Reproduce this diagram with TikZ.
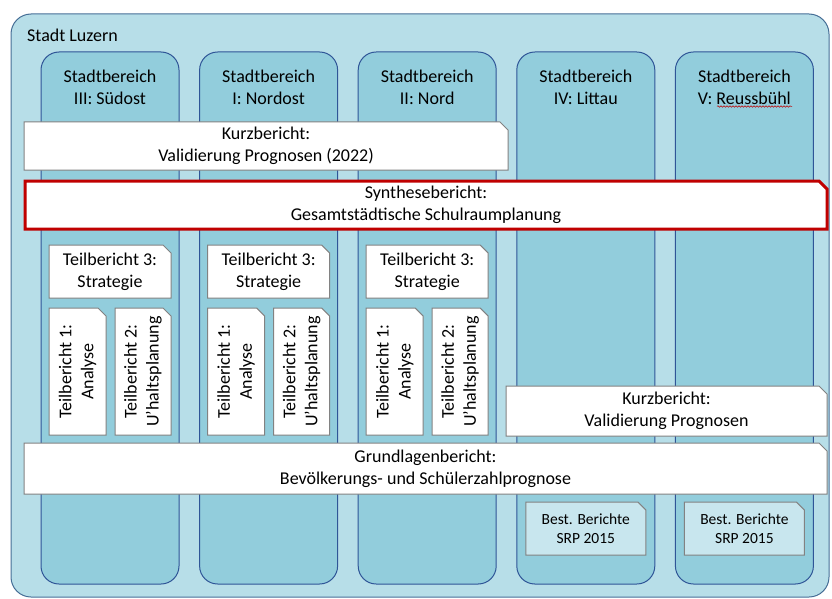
\documentclass[tikz,border=0pt]{standalone}
\usepackage{fontspec}
\setmainfont{Carlito}
\usetikzlibrary{shapes.misc,decorations.pathmorphing}

\definecolor{stadtbg}{RGB}{183,222,232}
\definecolor{stadtline}{RGB}{70,110,150}
\definecolor{bereichbg}{RGB}{146,205,220}
\definecolor{bereichline}{RGB}{47,85,151}
\definecolor{berichtline}{RGB}{130,130,130}
\definecolor{synthline}{RGB}{192,0,0}
\definecolor{bestbg}{RGB}{200,230,238}

\tikzset{
  bereich/.style={draw=bereichline, fill=bereichbg, rounded corners=18pt, line width=1pt,
    minimum width=138pt, minimum height=532pt, inner sep=0pt},
  bericht/.style={chamfered rectangle, chamfered rectangle corners=north east,
    chamfered rectangle sep=4pt, draw=berichtline, fill=white, line width=1pt,
    inner sep=0pt, align=center, font=\fontsize{18}{22}\selectfont},
  txt/.style={align=center, font=\fontsize{18}{22}\selectfont, inner sep=0pt},
}

\begin{document}
\begin{tikzpicture}[x=1pt, y=-1pt]
  \useasboundingbox (0,0) rectangle (832,599);
  % Stadt
  \node[draw=stadtline, fill=stadtbg, rounded corners=20pt, line width=1pt,
    minimum width=818pt, minimum height=583pt] (stadt) at (420,305.5) {};
  \node[txt, anchor=west] (stadttxt) at (27,35) {Stadt Luzern};
  % Stadtbereiche
  \foreach \x/\name/\nr in {110/s3/III: Südost, 268.6/s1/I: Nordost, 427.2/s2/II: Nord,
      585.8/s4/IV: Littau, 744.4/s5/V: Reussbühl} {
    \node[bereich] (\name) at (\x,318) {};
    \node[txt, anchor=north] (\name t) at ([yshift=-18pt]\name.north) {Stadtbereich\\\nr};
  }
  \draw[synthline, line width=0.5pt, decoration={snake, amplitude=0.8pt, segment length=3pt},
    decorate] (717,106.5) -- (792,106.5);
  % Berichte ueber alle
  \node[bericht, minimum width=484pt, minimum height=48pt] (kurz22) at (266,146)
    {Kurzbericht:\\Validierung Prognosen (2022)};
  \node[bericht, draw=synthline, line width=3pt, minimum width=802pt, minimum height=48pt]
    (synth) at (426,205) {Synthesebericht:\\Gesamtstädtische Schulraumplanung};
  % Teilberichte
  \foreach \x/\n in {110/3, 268.6/1, 427.2/2} {
    \node[bericht, minimum width=122pt, minimum height=53pt] (tb3\n) at (\x,271.5)
      {Teilbericht 3:\\Strategie};
    \node[bericht, chamfered rectangle corners=south east, rotate=90,
      minimum width=127pt, minimum height=57pt] (tba\n) at (\x-32.5,371.5)
      {Teilbericht 1:\\Analyse};
    \node[bericht, chamfered rectangle corners=south east, rotate=90,
      minimum width=127pt, minimum height=56pt] (tbb\n) at (\x+33,371.5)
      {Teilbericht 2:\\U’haltsplanung};
  }
  \node[bericht, minimum width=321pt, minimum height=50pt] (kurz) at (666.5,411)
    {Kurzbericht:\\Validierung Prognosen};
  \node[bericht, minimum width=803pt, minimum height=51pt] (grund) at (425.5,468.5)
    {Grundlagenbericht:\\Bevölkerungs- und Schülerzahlprognose};
  % bestehende Berichte
  \foreach \x/\n in {585.8/4, 744.4/5} {
    \node[bericht, fill=bestbg, font=\fontsize{15.5}{19}\selectfont,
      minimum width=120pt, minimum height=53pt] (best\n) at (\x,528.5)
      {Best. Berichte\\SRP 2015};
  }
\end{tikzpicture}
\end{document}
